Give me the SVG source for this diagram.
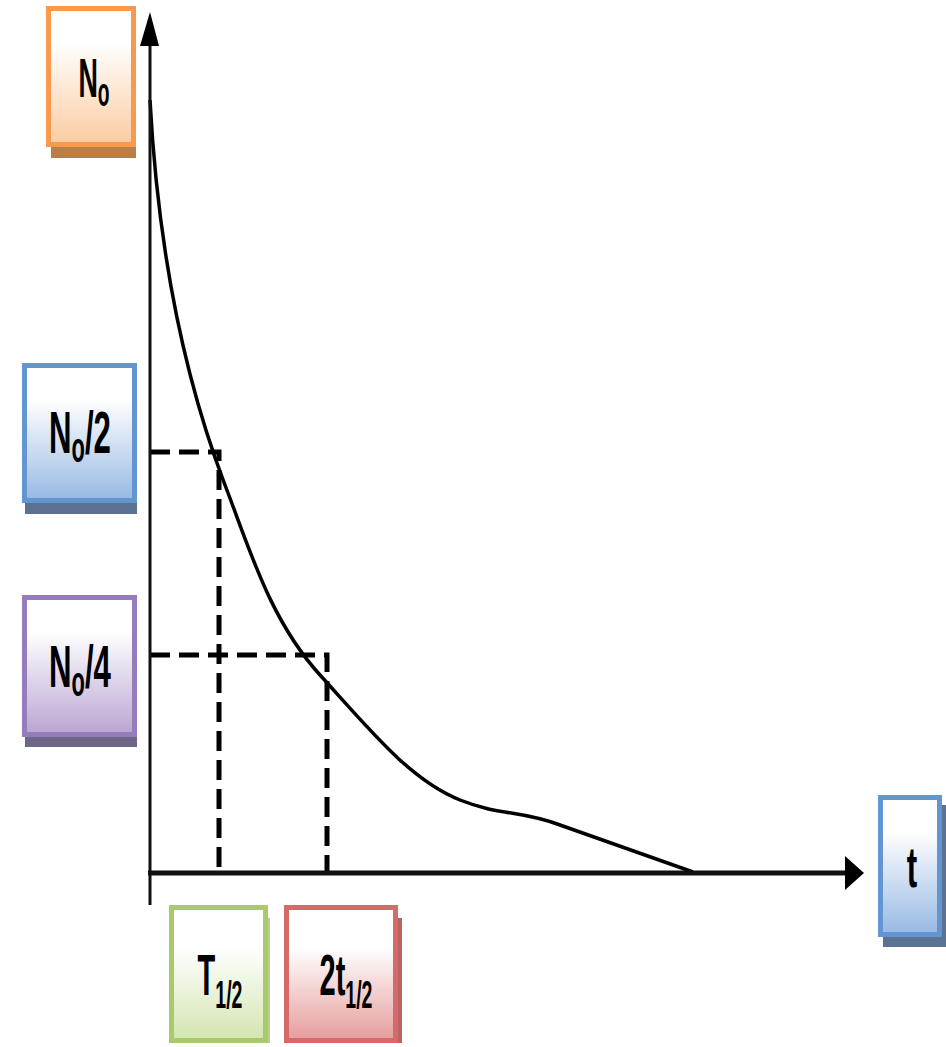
<svg xmlns="http://www.w3.org/2000/svg" width="946" height="1047" viewBox="0 0 946 1047">
<style>
.lbl{font-family:"Liberation Sans","DejaVu Sans",sans-serif;font-weight:bold;fill:#000;text-anchor:middle}
.box{stroke-width:5}
.axis{stroke:#111;fill:none}
.dash{stroke:#000;stroke-width:5;fill:none;stroke-dasharray:20 9}
.curve{stroke:#000;stroke-width:3.5;fill:none;stroke-linejoin:round}
</style>
<defs>
<linearGradient id="gO" x1="0" y1="0" x2="0" y2="1"><stop offset="0.25" stop-color="#fff"/><stop offset="1" stop-color="#fbcba0"/></linearGradient>
<linearGradient id="gB" x1="0" y1="0" x2="0" y2="1"><stop offset="0.25" stop-color="#fff"/><stop offset="1" stop-color="#97b9e3"/></linearGradient>
<linearGradient id="gP" x1="0" y1="0" x2="0" y2="1"><stop offset="0.25" stop-color="#fff"/><stop offset="1" stop-color="#b9a5d2"/></linearGradient>
<linearGradient id="gG" x1="0" y1="0" x2="0" y2="1"><stop offset="0.3" stop-color="#fff"/><stop offset="1" stop-color="#d3e5b0"/></linearGradient>
<linearGradient id="gR" x1="0" y1="0" x2="0" y2="1"><stop offset="0.3" stop-color="#fff"/><stop offset="1" stop-color="#e69c9c"/></linearGradient>
</defs>
<rect width="946" height="1047" fill="#fff"/>

<g id="connectors">
  <path class="curve" d="M150,100 C158,250 185,380 225,485 C250,550 270,620 320,675 C370,730 410,780 460,800 C500,816 520,810 560,825 L693,872"/>
  <path class="dash" d="M150,452 H219 V873"/>
  <path class="dash" d="M150,655 H327 V873"/>
  <line class="axis" x1="150" y1="40" x2="150" y2="905" stroke-width="3"/>
  <polygon points="150,12 140,46 159,46" fill="#000"/>
  <line class="axis" x1="148" y1="873" x2="848" y2="873" stroke-width="5"/>
  <polygon points="864,873 845,856 845,890" fill="#000"/>
</g>

<g id="node-N0">
  <rect x="51" y="130" width="85" height="28" fill="#b97d45"/>
  <rect class="box" x="48.5" y="8.5" width="85" height="136" fill="url(#gO)" stroke="#f79a4f"/>
  <text class="lbl" transform="translate(94,97) scale(0.48,1)" font-size="56">N<tspan font-size="40" dy="9">o</tspan></text>
</g>

<g id="node-N0-2">
  <rect x="25" y="490" width="112" height="24" fill="#5a7290"/>
  <rect class="box" x="24.5" y="365.5" width="110" height="135" fill="url(#gB)" stroke="#6395d0"/>
  <text class="lbl" transform="translate(80,453) scale(0.52,1)" font-size="60">N<tspan font-size="42" dy="9">o</tspan><tspan dy="-9">/2</tspan></text>
</g>

<g id="node-N0-4">
  <rect x="25" y="722" width="112" height="25" fill="#6f6584"/>
  <rect class="box" x="24.5" y="597.5" width="110" height="137" fill="url(#gP)" stroke="#967bbd"/>
  <text class="lbl" transform="translate(80,687) scale(0.52,1)" font-size="60">N<tspan font-size="42" dy="9">o</tspan><tspan dy="-9">/4</tspan></text>
</g>

<g id="node-t">
  <rect x="883" y="805" width="63" height="142" fill="#5b7290"/>
  <rect class="box" x="880.5" y="797.5" width="59" height="137" fill="url(#gB)" stroke="#6395d0"/>
  <text class="lbl" transform="translate(912,887) scale(0.55,1)" font-size="57">t</text>
</g>

<g id="node-T12">
  <rect x="172" y="918" width="98" height="125" fill="#b9cf8c"/>
  <rect class="box" x="171.5" y="907.5" width="94" height="133" fill="url(#gG)" stroke="#a8ca6c"/>
  <text class="lbl" transform="translate(220,995) scale(0.5,1)" font-size="58">T<tspan font-size="39" dy="13">1/2</tspan></text>
</g>

<g id="node-2t12">
  <rect x="288" y="918" width="114" height="125" fill="#b96464"/>
  <rect class="box" x="286.5" y="907.5" width="109" height="133" fill="url(#gR)" stroke="#d66a6a"/>
  <text class="lbl" transform="translate(346,995) scale(0.5,1)" font-size="58">2t<tspan font-size="39" dy="13">1/2</tspan></text>
</g>
</svg>
